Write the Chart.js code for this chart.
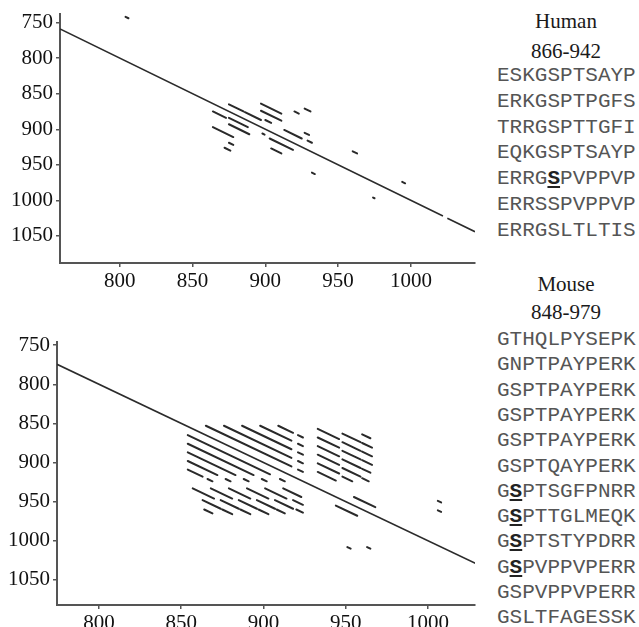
<!DOCTYPE html>
<html>
<head>
<meta charset="utf-8">
<script src="https://cdn.jsdelivr.net/npm/chart.js@4.4.1/dist/chart.umd.min.js"></script>
<style>
  html, body { margin: 0; padding: 0; background: #fff; }
  #wrap { position: relative; width: 639px; height: 627px; overflow: hidden; background: #fff; }
  canvas { position: absolute; left: 0; }
  .lbl { position: absolute; font-family: "Liberation Serif", "Times New Roman", serif; font-size: 21px; line-height: 21px; color: #1a1a1a; text-align: center; width: 140px; left: 496px; white-space: nowrap; }
  .seq { position: absolute; font-family: "Liberation Mono", "Courier New", monospace; font-size: 21px; line-height: 21px; color: #555; left: 497px; white-space: nowrap; }
  .seq b { color: #222; text-decoration: underline; text-decoration-thickness: 2px; text-underline-offset: 2px; }
</style>
</head>
<body>
<div id="wrap">
  <canvas id="top" width="490" height="300" style="top:0"></canvas>
  <canvas id="bot" width="490" height="327" style="top:300px"></canvas>
</div>
<script>
// ---------- data ----------
const xTicks = [800, 850, 900, 950, 1000];
const yTicks = [750, 800, 850, 900, 950, 1000, 1050];

// Human self dot plot: diagonal pieces [start, end]
const humanDiagStart = [759, 1025];
const humanDiagEnd   = [1022, 1044];
// Human off-diagonal match runs: x start, y start, run length
const humanX = [875, 897, 864, 886, 897, 875, 900, 920, 927, 864, 875, 898, 913, 927, 903, 875, 872, 904, 929, 804, 932, 960, 994, 974];
const humanY = [865, 864, 875, 876, 874, 884, 887, 875, 871, 897, 893, 906, 901, 905, 913, 919, 926, 927, 916, 742, 961, 931, 974, 996];
const humanL = [10, 14, 9, 11, 14, 13, 4, 3, 4, 14, 14, 1.5, 12, 3, 16, 3, 4, 7, 3, 2, 2, 3, 2, 1];

// Mouse self dot plot
const mouseDiagStart = [774.5];
const mouseDiagEnd   = [1029];
const mouseX = [
  865, 876, 887, 898, 909, 921, 921, 921, 921, 921,
  854, 854, 854, 854, 854, 866, 877, 888, 899, 910,
  857, 868, 879, 890, 901, 912,
  863, 874, 885, 896, 907, 918,
  864, 875, 886, 897, 908, 920,
  933, 933, 933, 933, 933, 933,
  948, 948, 948, 948, 948, 948,
  960, 960, 960, 960, 960, 960,
  944, 955,
  951, 963, 1006, 1006
];
const mouseY = [
  853, 853, 853, 853, 853, 909, 898, 887, 876, 865,
  865, 876, 887, 898, 909, 921, 921, 921, 921, 921,
  933, 933, 933, 933, 933, 933,
  948, 948, 948, 948, 948, 948,
  960, 960, 960, 960, 960, 960,
  857, 868, 879, 890, 901, 912,
  863, 874, 885, 896, 907, 918,
  864, 875, 886, 897, 908, 920,
  955, 944,
  1008, 1008, 949, 961
];
const mouseL = [
  52, 41, 30, 19, 9, 3, 3, 3, 3, 3,
  50, 40, 29, 18, 9, 3, 3, 3, 3, 3,
  13, 13, 13, 13, 13, 11,
  11, 11, 11, 11, 11, 6,
  5, 6, 6, 6, 5, 4,
  13, 13, 13, 13, 13, 11,
  11, 11, 11, 11, 11, 6,
  5, 6, 6, 6, 5, 4,
  13, 13,
  2, 2, 2, 2
];

const humanSeqs = ["ESKGSPTSAYP","ERKGSPTPGFS","TRRGSPTTGFI","EQKGSPTSAYP","ERRGSPVPPVP","ERRSSPVPPVP","ERRGSLTLTIS"];
const humanMark = [-1, -1, -1, -1, 4, -1, -1];
const mouseSeqs = ["GTHQLPYSEPK","GNPTPAYPERK","GSPTPAYPERK","GSPTPAYPERK","GSPTPAYPERK","GSPTQAYPERK","GSPTSGFPNRR","GSPTTGLMEQK","GSPTSTYPDRR","GSPVPPVPERR","GSPVPPVPERR","GSLTFAGESSK"];
const mouseMark = [-1, -1, -1, -1, -1, -1, 1, 1, 1, 1, -1, -1];

// ---------- helpers ----------
function runsToData(xs, ys, ls) {
  const d = [];
  for (let i = 0; i < xs.length; i++) {
    d.push({x: xs[i], y: ys[i]});
    d.push({x: xs[i] + ls[i], y: ys[i] + ls[i]});
    d.push({x: xs[i] + ls[i], y: null});
  }
  return d;
}
function diagToData(s, e) {
  const d = [];
  for (let i = 0; i < s.length; i++) {
    d.push({x: s[i], y: s[i]});
    d.push({x: e[i], y: e[i]});
    d.push({x: e[i], y: null});
  }
  return d;
}

Chart.defaults.font.family = "'Liberation Serif', 'Times New Roman', serif";
Chart.defaults.font.size = 21;
const FONT = {family: "'Liberation Serif', 'Times New Roman', serif", size: 21};

function makeChart(id, cfg) {
  return new Chart(document.getElementById(id), {
    type: 'scatter',
    data: {
      datasets: [
        {data: diagToData(cfg.ds, cfg.de), showLine: true, borderColor: '#2b2b2b', borderWidth: 1.6, pointRadius: 0, spanGaps: false},
        {data: runsToData(cfg.xs, cfg.ys, cfg.ls), showLine: true, borderColor: '#2a2a2a', borderWidth: 2, borderCapStyle: 'round', pointRadius: 0, spanGaps: false}
      ]
    },
    options: {
      responsive: false,
      devicePixelRatio: 1,
      animation: false,
      events: [],
      layout: {padding: {left: 0, right: cfg.padR, top: cfg.padT, bottom: 0}},
      plugins: {legend: {display: false}, tooltip: {enabled: false}},
      scales: {
        x: {
          type: 'linear', position: 'bottom', min: cfg.xmin, max: cfg.xmax,
          afterBuildTicks: s => { s.ticks = xTicks.map(v => ({value: v})); },
          afterFit: s => { s.height = cfg.xh; s.paddingLeft = 0; s.paddingRight = 0; },
          grid: {display: true, drawOnChartArea: false, drawTicks: true, tickLength: 4, color: '#555', lineWidth: 1.5},
          border: {display: true, color: '#555', width: 2},
          ticks: {font: FONT, color: '#111', padding: 2, maxRotation: 0, autoSkip: false, callback: v => String(v)}
        },
        y: {
          type: 'linear', position: 'left', reverse: true, min: cfg.ymin, max: cfg.ymax,
          afterBuildTicks: s => { s.ticks = yTicks.map(v => ({value: v})); },
          afterFit: s => { s.width = cfg.yw; s.paddingTop = 0; s.paddingBottom = 0; },
          grid: {display: true, drawOnChartArea: false, drawTicks: true, tickLength: 4, color: '#555', lineWidth: 1.5},
          border: {display: true, color: '#555', width: 2},
          ticks: {font: FONT, color: '#111', padding: 3, autoSkip: false, callback: v => String(v)}
        }
      }
    }
  });
}

const charts = [
  makeChart('top', {ds: humanDiagStart, de: humanDiagEnd, xs: humanX, ys: humanY, ls: humanL,
    xmin: 759, xmax: 1044, ymin: 738, ymax: 1088, padR: 15, padT: 14, xh: 37, yw: 60}),
  makeChart('bot', {ds: mouseDiagStart, de: mouseDiagEnd, xs: mouseX, ys: mouseY, ls: mouseL,
    xmin: 774.5, xmax: 1028.6, ymin: 746, ymax: 1082, padR: 15, padT: 42, xh: 22, yw: 57})
];
if (document.fonts && document.fonts.ready) {
  document.fonts.ready.then(() => charts.forEach(c => c.update('none')));
}

// ---------- text panel ----------
const wrap = document.getElementById('wrap');
function addLabel(text, cy) {
  const d = document.createElement('div');
  d.className = 'lbl'; d.textContent = text; d.style.top = (cy - 11) + 'px';
  wrap.appendChild(d);
}
function addSeq(seq, mark, cy) {
  const d = document.createElement('div');
  d.className = 'seq'; d.style.top = (cy - 11) + 'px';
  for (let i = 0; i < seq.length; i++) {
    if (i === mark) { const b = document.createElement('b'); b.textContent = seq[i]; d.appendChild(b); }
    else d.appendChild(document.createTextNode(seq[i]));
  }
  wrap.appendChild(d);
}
addLabel('Human', 22);
addLabel('866-942', 52);
humanSeqs.forEach((s, i) => addSeq(s, humanMark[i], 76 + i * 25.8));
addLabel('Mouse', 285);
addLabel('848-979', 313);
mouseSeqs.forEach((s, i) => addSeq(s, mouseMark[i], 340 + i * 25.3));
</script>
</body>
</html>
